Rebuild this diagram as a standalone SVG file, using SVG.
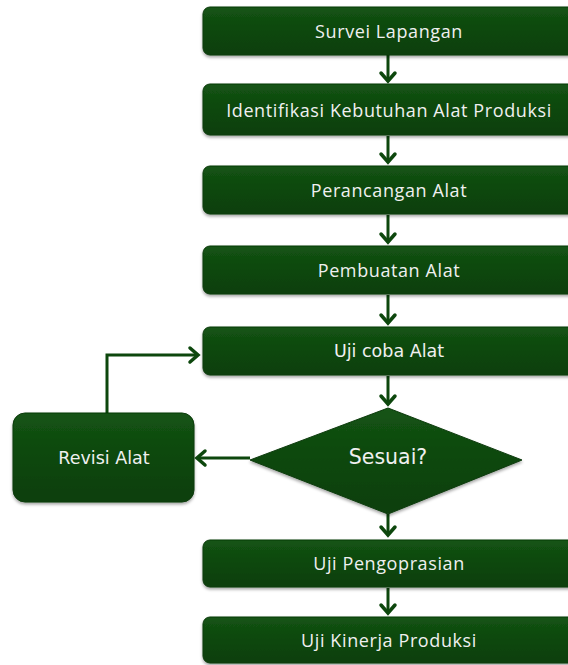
<svg xmlns="http://www.w3.org/2000/svg" width="568" height="665" viewBox="0 0 568 665">
<style>
.box{fill:url(#g);stroke:#0a3a0a;stroke-width:1;filter:url(#sh)}
.t{font-family:"Open Sans","Noto Sans",sans-serif;font-size:18px;letter-spacing:0.6px;fill:#f0f0f0;text-anchor:middle;dominant-baseline:central}
.d{font-family:"DejaVu Sans",sans-serif;font-size:17.5px;fill:#f0f0f0;text-anchor:middle;dominant-baseline:central}
.q{font-family:"DejaVu Sans",sans-serif;font-size:20.5px;fill:#f0f0f0;text-anchor:middle;dominant-baseline:central}
.c{fill:none;stroke:#0d470d;stroke-width:3}
.h{fill:none;stroke:#0d470d;stroke-width:3.5;stroke-linecap:round;stroke-linejoin:miter}
</style>
<defs>
<linearGradient id="g" x1="0" y1="0" x2="0" y2="1">
<stop offset="0" stop-color="#145414"/>
<stop offset="0.5" stop-color="#0d470d"/>
<stop offset="1" stop-color="#0a3f0a"/>
</linearGradient>
<filter id="sh" x="-10%" y="-20%" width="120%" height="150%">
<feDropShadow dx="0" dy="2" stdDeviation="1.5" flood-color="#000" flood-opacity="0.35"/>
</filter>
</defs>
<g id="connectors">
<path class="c" d="M388 55V80"/><path class="h" d="M381 73L388 81L395 73"/>
<path class="c" d="M388 136V161"/><path class="h" d="M381 154L388 162L395 154"/>
<path class="c" d="M388 215V241"/><path class="h" d="M381 234L388 242L395 234"/>
<path class="c" d="M388 295V322"/><path class="h" d="M381 315L388 323L395 315"/>
<path class="c" d="M388 376V403"/><path class="h" d="M381 396L388 404L395 396"/>
<path class="c" d="M388 514V534"/><path class="h" d="M381 527L388 535L395 527"/>
<path class="c" d="M388 588V612"/><path class="h" d="M381 605L388 613L395 605"/>
<path class="c" d="M250 458H198"/><path class="h" d="M205 451L197 458L205 465"/>
<path class="c" d="M107 413V355H197"/><path class="h" d="M190 348L198 355L190 362"/>
</g>
<g id="n1"><rect class="box" x="203" y="7" width="380" height="48" rx="7"/><text class="t" x="389" y="31">Survei Lapangan</text></g>
<g id="n2"><rect class="box" x="203" y="84" width="380" height="51" rx="7"/><text class="t" x="389" y="110">Identifikasi Kebutuhan Alat Produksi</text></g>
<g id="n3"><rect class="box" x="203" y="166" width="380" height="48" rx="7"/><text class="t" x="389" y="190">Perancangan Alat</text></g>
<g id="n4"><rect class="box" x="203" y="246" width="380" height="48" rx="7"/><text class="t" x="389" y="270">Pembuatan Alat</text></g>
<g id="n5"><rect class="box" x="203" y="327" width="380" height="48" rx="7"/><text class="d" x="389" y="351">Uji coba Alat</text></g>
<g id="n6"><path class="box" d="M388 408L522 460L388 514L250 460Z"/><text class="q" x="388" y="457">Sesuai?</text></g>
<g id="n7"><rect class="box" x="13" y="413" width="181" height="89" rx="12"/><text class="d" x="104" y="458">Revisi Alat</text></g>
<g id="n8"><rect class="box" x="203" y="540" width="380" height="47" rx="7"/><text class="t" x="389" y="563">Uji Pengoprasian</text></g>
<g id="n9"><rect class="box" x="203" y="617" width="380" height="46" rx="7"/><text class="t" x="389" y="640">Uji Kinerja Produksi</text></g>
</svg>
